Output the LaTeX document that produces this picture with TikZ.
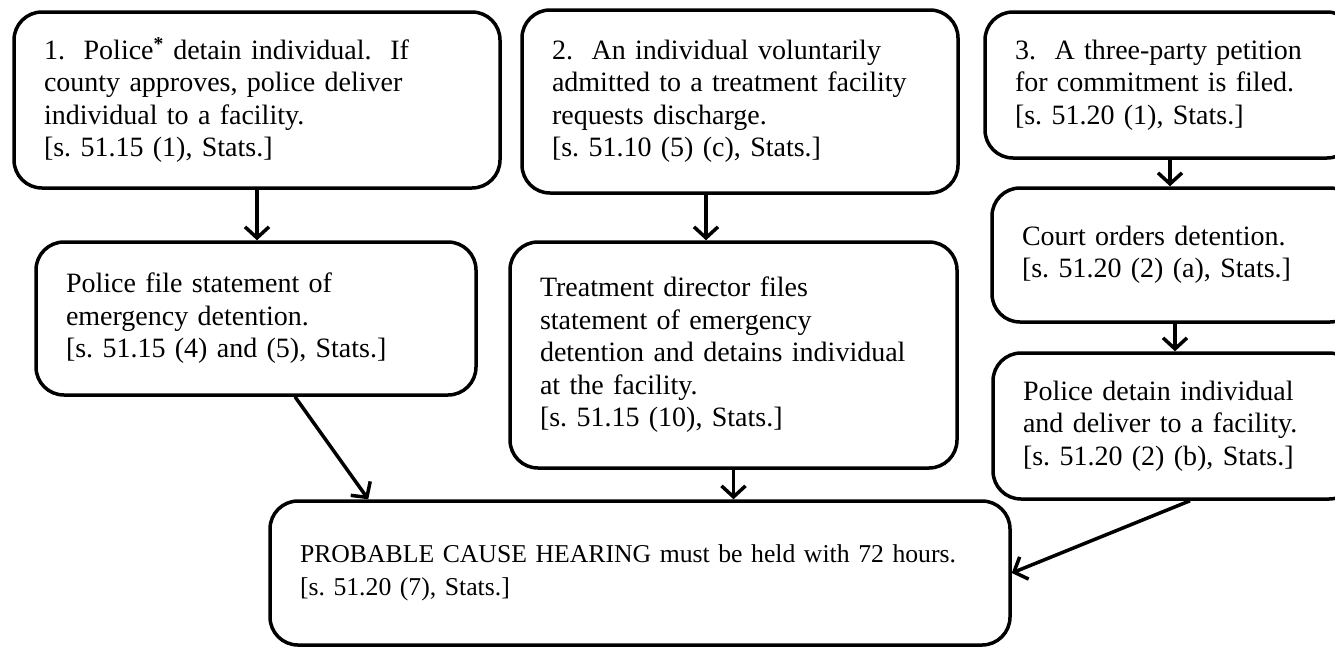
\documentclass[tikz,border=0pt]{standalone}
\usepackage{fontspec}
\setmainfont{Liberation Serif}
\frenchspacing
\usetikzlibrary{arrows.meta, positioning, calc}

\begin{document}
\begin{tikzpicture}[x=1pt, y=-1pt,
  box/.style={draw, line width=3.5pt, rounded corners=28pt, align=left,
    inner xsep=30pt, inner ysep=0pt,
    font=\fontsize{28}{32.5}\selectfont},
  arr/.style={line width=3.5pt, -{Straight Barb[length=11pt, width=24pt]}}]
  \useasboundingbox (0,0) rectangle (1335,646);
  \clip (0,0) rectangle (1335,646);

  % Starting boxes (top row)
  \node[box, text width=426pt, minimum height=176pt] (start1) at (257, 100)
    {1.\ \ Police\textsuperscript{\textbf{*}} detain individual.\ \ If\\
     county approves, police deliver\\
     individual to a facility.\\
     {[s. 51.15 (1), Stats.]}};
  \node[box, text width=376pt, minimum height=183pt] (start2) at (740, 101.5)
    {2.\ \ An individual voluntarily\\
     admitted to a treatment facility\\
     requests discharge.\\
     {[s. 51.10 (5) (c), Stats.]}};
  \node[box, text width=310pt, minimum height=146pt] (start3) at (1170, 85)
    {3.\ \ A three-party petition\\
     for commitment is filed.\\
     {[s. 51.20 (1), Stats.]}};

  % Detention steps
  \node[box, text width=380pt, minimum height=153pt] (file1) at (256, 318.5)
    {Police file statement of\\
     emergency detention.\\
     {[s. 51.15 (4) and (5), Stats.]}};
  \node[box, text width=387pt, minimum height=226pt] (file2) at (733.5, 355)
    {Treatment director files\\
     statement of emergency\\
     detention and detains individual\\
     at the facility.\\
     {[s. 51.15 (10), Stats.]}};
  \node[box, text width=306pt, minimum height=134pt] (court3) at (1175, 255)
    {Court orders detention.\\
     {[s. 51.20 (2) (a), Stats.]}};
  \node[box, text width=304pt, minimum height=146pt] (deliver3) at (1175, 426)
    {Police detain individual\\
     and deliver to a facility.\\
     {[s. 51.20 (2) (b), Stats.]}};

  % Hearing (bottom)
  \node[box, text width=680pt, minimum height=144pt,
    font=\fontsize{25.7}{33}\selectfont] (hearing) at (640, 573)
    {PROBABLE CAUSE HEARING must be held with 72 hours.\\
     {[s. 51.20 (7), Stats.]}};

  % Edges
  \draw[arr] (start1.south) -- (start1.south |- file1.north);
  \draw[arr] ([xshift=-34pt]start2.south) coordinate (t2) -- (t2 |- file2.north);
  \draw[arr] (start3.south) -- (start3.south |- court3.north);
  \draw[arr] (court3.south) -- (deliver3.north);

  \draw[arr] ([xshift=39pt]file1.south) -- ([xshift=100pt]hearing.north west);
  \draw[arr] (file2.south) -- (file2.south |- hearing.north);
  \draw[arr] ([xshift=15pt]deliver3.south) -- (hearing.east);
\end{tikzpicture}
\end{document}
